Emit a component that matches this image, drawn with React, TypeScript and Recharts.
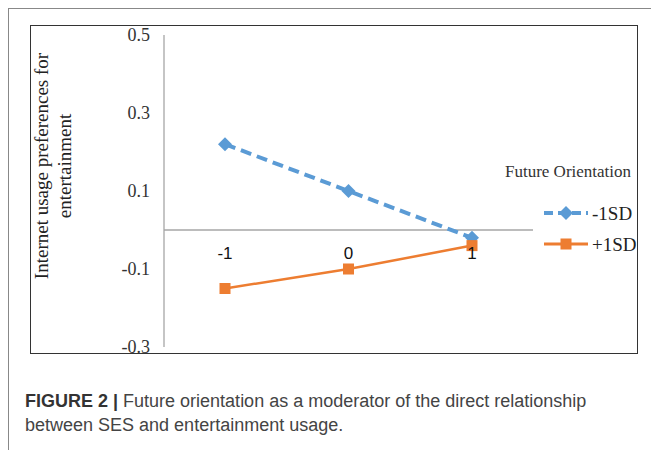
import React from "react";
import { LineChart, Line, XAxis, YAxis, ReferenceLine, ReferenceDot, Legend } from "recharts";

// Family SES levels on the x axis
const sesLevels = ["-1", "0", "1"];
// Future orientation -1SD / +1SD
const lowFuture = [0.22, 0.1, -0.02];
const highFuture = [-0.15, -0.1, -0.04];
const yTicks = [-0.3, -0.1, 0.1, 0.3, 0.5];
const seriesNames = ["-1SD", "+1SD"];

const data = sesLevels.map((ses, i) => ({ ses, low: lowFuture[i], high: highFuture[i] }));

const BLUE = "#5B9BD5";
const ORANGE = "#ED7D31";
const AXIS = "#a6a6a6";
const SERIF = "'Liberation Serif', 'Times New Roman', serif";
const SANS = "'Liberation Sans', Arial, sans-serif";

function Diamond({ cx, cy, fill, s = 7 }: { cx: number; cy: number; fill: string; s?: number }) {
  return <path d={`M${cx},${cy - s}L${cx + s},${cy}L${cx},${cy + s}L${cx - s},${cy}Z`} fill={fill} />;
}

function Square({ cx, cy, fill, s = 5.5 }: { cx: number; cy: number; fill: string; s?: number }) {
  return <rect x={cx - s} y={cy - s} width={s * 2} height={s * 2} fill={fill} />;
}

function YTitle(props: any) {
  const { x, y, height } = props.viewBox;
  const cy = y + height / 2 - 25;
  const x1 = x - 93;
  const x2 = x - 70;
  const style = { fontFamily: SERIF, fontSize: 19, fill: "#222" };
  return (
    <g>
      <text x={x1} y={cy} textAnchor="middle" dominantBaseline="central" transform={`rotate(-90 ${x1} ${cy})`} style={style}>
        Internet usage preferences for
      </text>
      <text x={x2} y={cy} textAnchor="middle" dominantBaseline="central" transform={`rotate(-90 ${x2} ${cy})`} style={style}>
        entertainment
      </text>
    </g>
  );
}

function XTitle(props: any) {
  const { x, y, width } = props.viewBox;
  return (
    <text x={x + width / 2 - 17} y={y - 35} textAnchor="middle" dominantBaseline="central" style={{ fontFamily: SERIF, fontSize: 19, fill: "#222" }}>
      Family SES
    </text>
  );
}

function LegendBox(props: any) {
  const items = [...(props.payload || [])].sort(
    (a: any, b: any) => seriesNames.indexOf(a.value) - seriesNames.indexOf(b.value)
  );
  return (
    <svg width={150} height={110} style={{ display: "block" }}>
      <text x={67} y={15} textAnchor="middle" dominantBaseline="central" style={{ fontFamily: SERIF, fontSize: 17, fill: "#333" }}>
        Future Orientation
      </text>
      {items.map((it: any, i: number) => {
        const cy = 57 + i * 31;
        const dashed = it.value === seriesNames[0];
        return (
          <g key={it.value}>
            <line x1={43} x2={87} y1={cy} y2={cy} stroke={it.color} strokeWidth={dashed ? 4 : 3} strokeDasharray={dashed ? "9 5" : undefined} />
            {dashed ? <Diamond cx={65} cy={cy} fill={it.color} /> : <Square cx={65} cy={cy} fill={it.color} />}
            <text x={91} y={cy} dominantBaseline="central" style={{ fontFamily: SERIF, fontSize: 19, fill: "#222" }}>
              {it.value}
            </text>
          </g>
        );
      })}
    </svg>
  );
}

export default function App() {
  return (
    <div style={{ position: "relative", width: 651, height: 442, borderTop: "1px solid #888", borderLeft: "1px solid #888", boxSizing: "border-box" }}>
      <div style={{ position: "absolute", left: 21, top: 16, width: 608, height: 329, border: "1px solid #333", boxSizing: "border-box" }}>
        <LineChart width={606} height={327} data={data} margin={{ top: 9, right: 104, bottom: 6, left: 103 }} style={{ overflow: "visible" }}>
          <XAxis dataKey="ses" type="category" padding={{ left: 61, right: 61 }} axisLine={false} tickLine={false} tick={false} height={0} label={<XTitle />} />
          <YAxis
            type="number"
            domain={[-0.3, 0.5]}
            ticks={yTicks}
            interval={0}
            width={30}
            axisLine={{ stroke: AXIS, strokeWidth: 1.3 }}
            tickLine={false}
            tickMargin={8}
            tick={{ fontFamily: SERIF, fontSize: 18, fill: "#333" }}
            label={<YTitle />}
          />
          <ReferenceLine y={0} stroke={AXIS} strokeWidth={1.3} />
          <Legend layout="horizontal" verticalAlign="middle" align="center" wrapperStyle={{ left: 470, top: 130, width: 150, height: 110 }} content={<LegendBox />} />
          <Line
            dataKey="low"
            name={seriesNames[0]}
            stroke={BLUE}
            strokeWidth={4}
            strokeDasharray="11 6"
            isAnimationActive={false}
            dot={(p: any) => <Diamond key={`lo-${p.index}`} cx={p.cx} cy={p.cy} fill={BLUE} />}
            activeDot={false}
          />
          <Line
            dataKey="high"
            name={seriesNames[1]}
            stroke={ORANGE}
            strokeWidth={2.5}
            isAnimationActive={false}
            dot={(p: any) => <Square key={`hi-${p.index}`} cx={p.cx} cy={p.cy} fill={ORANGE} />}
            activeDot={false}
          />
          {sesLevels.map((s) => (
            <ReferenceDot
              key={s}
              x={s}
              y={0}
              r={0}
              fill="none"
              stroke="none"
              label={{ value: s, position: "bottom", offset: 17, style: { fontFamily: SANS, fontSize: 17, fill: "#111" } }}
            />
          ))}
        </LineChart>
      </div>
      <div style={{ position: "absolute", left: 16, top: 380, fontFamily: SANS, fontSize: 18, lineHeight: "24px", color: "#444", width: 630 }}>
        <span style={{ fontWeight: "bold", color: "#333" }}>FIGURE 2 |</span> Future orientation as a moderator of the direct relationship
        <br />
        between SES and entertainment usage.
      </div>
    </div>
  );
}
